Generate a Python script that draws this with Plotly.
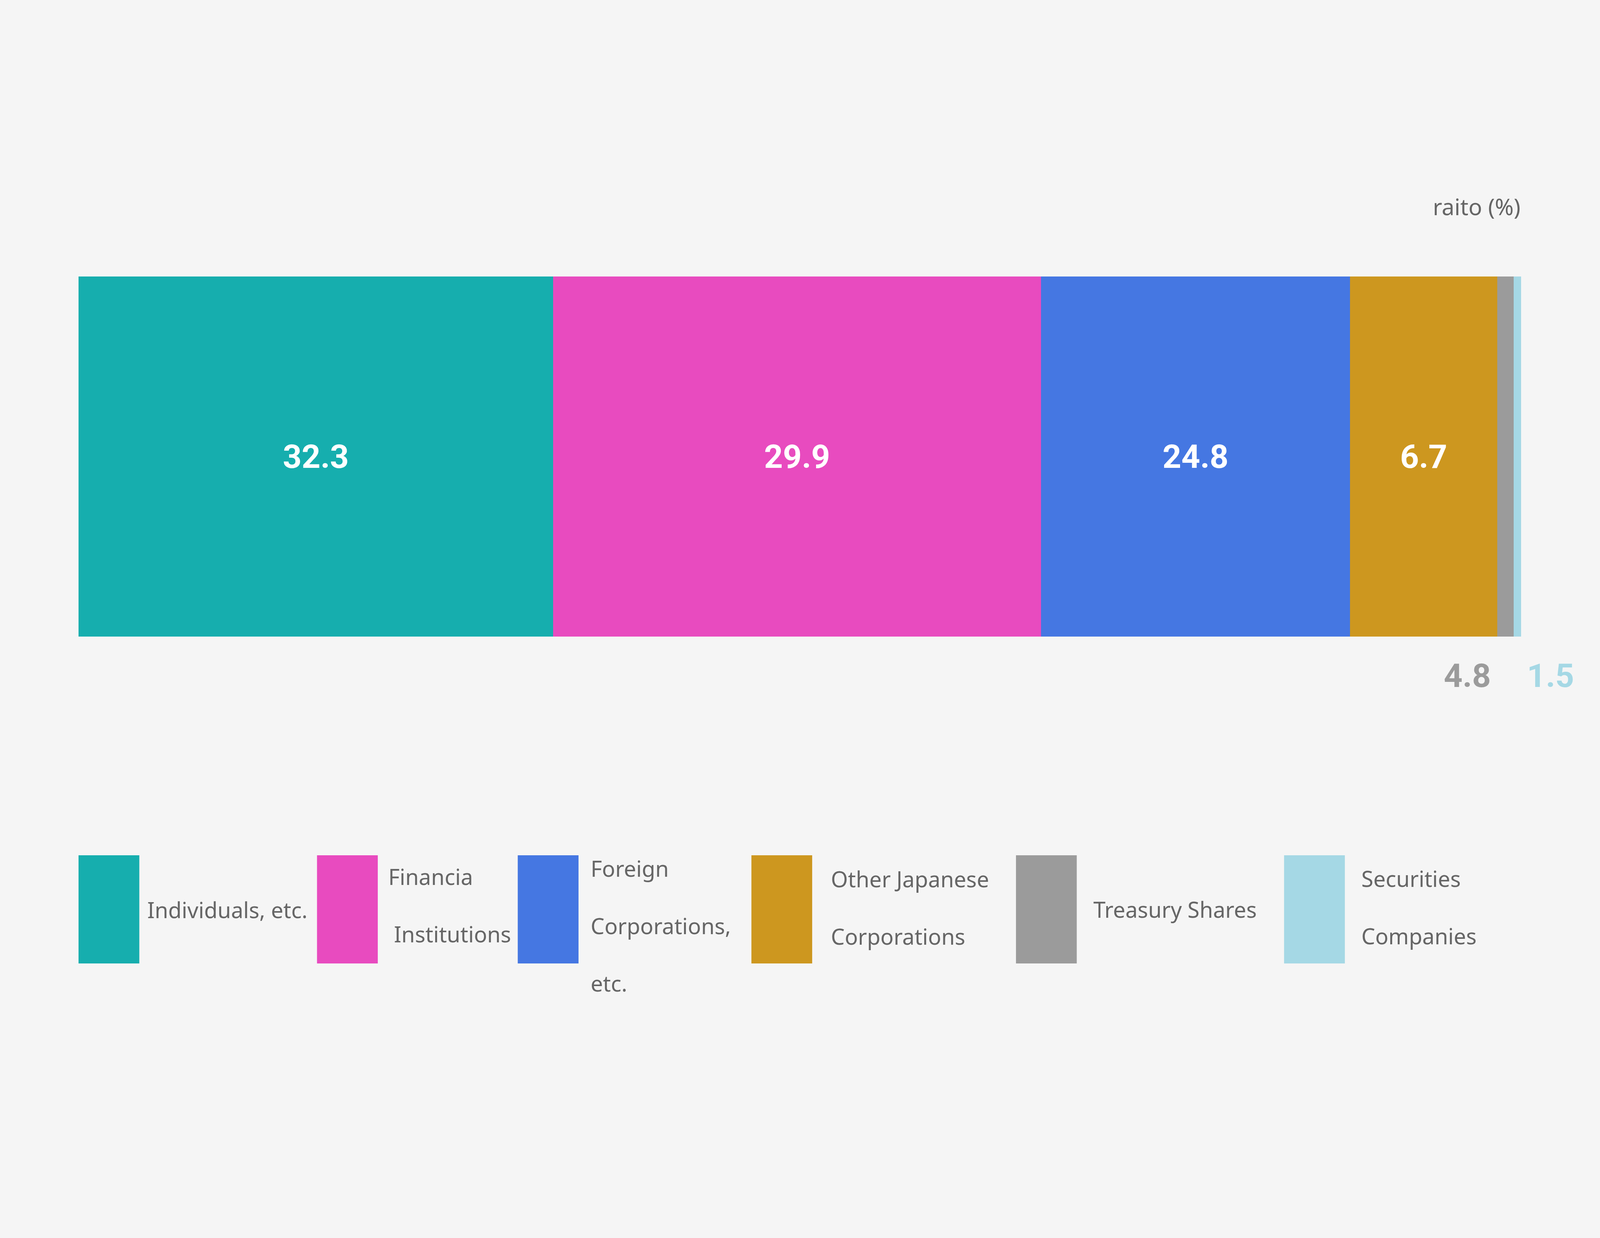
import plotly.graph_objects as go

# shareholder composition, one stacked bar
categories = ["Individuals, etc.", "Financia Institutions", "Foreign Corporations, etc.",
              "Other Japanese Corporations", "Treasury Shares", "Securities Companies"]
# legend text as it is broken into lines in the picture
legend_lines = [
    ["Individuals, etc."],
    ["Financia", "\u00a0Institutions"],
    ["Foreign", "Corporations,", "etc."],
    ["Other Japanese", "Corporations"],
    ["Treasury Shares"],
    ["Securities", "Companies"],
]
# printed labels
label_text = ["32.3", "29.9", "24.8", "6.7", "4.8", "1.5"]
# segment lengths as drawn (they do not follow the printed labels exactly)
bar_length = [32.9, 33.8, 21.4, 10.2, 1.14, 0.53]
colors = ["#16aeae", "#e84bbf", "#4577e2", "#cd971f", "#9b9b9b", "#a5d8e5"]
unit_label = "raito (%)"

# layout is measured on the 7293 x 3170 reference and placed as fractions,
# the page itself is filled by the figure (the window is narrower in practice)
W, H = 7293, 3170
S = 4096 / W          # horizontal px scale of the actual page
PL, PR, PT, PB = 358, 6934, 708, 1630   # bar area in reference pixels
BG = "#f5f5f5"
TEXT_GREY = "#666666"
NUM_SIZE = 84
LEGEND_SIZE = 56
UNIT_SIZE = 58


def fx(px):
    return px / W


def fy(py):
    return 1 - py / H


fig = go.Figure()
n_inside = 4
for i, (name, val) in enumerate(zip(categories, bar_length)):
    fig.add_trace(go.Bar(
        x=[val], y=[0], width=1, orientation="h", name=name,
        marker=dict(color=colors[i], line=dict(width=0)),
        text=[label_text[i] if i < n_inside else ""],
        textposition="inside", insidetextanchor="middle", textangle=0,
        constraintext="none",
        textfont=dict(family="Roboto", size=NUM_SIZE, color="white", weight="bold"),
        hoverinfo="skip",
    ))

annotations = []
# labels for the thin segments, below the bar
start_grey = sum(bar_length[:4])
total = sum(bar_length)
annotations.append(dict(x=start_grey, y=fy(1730), xref="x", yref="paper",
                        text=label_text[4], showarrow=False, xanchor="right", yanchor="middle",
                        xshift=-24 * S,
                        font=dict(family="Roboto", size=NUM_SIZE, color=colors[4], weight="bold")))
annotations.append(dict(x=total, y=fy(1730), xref="x", yref="paper",
                        text=label_text[5], showarrow=False, xanchor="left", yanchor="middle",
                        xshift=23 * S,
                        font=dict(family="Roboto", size=NUM_SIZE, color=colors[5], weight="bold")))
# unit
annotations.append(dict(x=fx(PR), y=fy(529), xref="paper", yref="paper", text=unit_label,
                        showarrow=False, xanchor="right", yanchor="middle",
                        font=dict(family="Noto Sans", size=UNIT_SIZE, color=TEXT_GREY)))

# hand made legend: square swatches with text to the right
swatch_left = [358, 1445, 2360, 3425, 4631, 5853]
text_left = [668, 1766, 2688, 3784, 4980, 6202]
first_line_y = [2329, 2244, 2223, 2250, 2328, 2249]
SW_TOP, SW_SIZE, LINE_STEP = 2190, 277, 147

shapes = []
for i in range(len(categories)):
    shapes.append(dict(type="rect", xref="paper", yref="paper",
                       x0=fx(swatch_left[i]), x1=fx(swatch_left[i] + SW_SIZE),
                       y0=fy(SW_TOP + SW_SIZE), y1=fy(SW_TOP),
                       fillcolor=colors[i], line=dict(width=0)))
    for k, line in enumerate(legend_lines[i]):
        annotations.append(dict(x=fx(text_left[i]), y=fy(first_line_y[i] + k * LINE_STEP),
                                xref="paper", yref="paper", text=line, showarrow=False,
                                xanchor="left", yanchor="middle",
                                font=dict(family="Noto Sans", size=LEGEND_SIZE, color=TEXT_GREY)))

fig.update_layout(
    autosize=True,
    margin=dict(l=0, r=0, t=0, b=0, pad=0),
    barmode="stack", bargap=0,
    paper_bgcolor=BG, plot_bgcolor=BG,
    showlegend=False,
    xaxis=dict(range=[0, total], domain=[fx(PL), fx(PR)], visible=False, fixedrange=True),
    yaxis=dict(range=[-0.5, 0.5], domain=[fy(PB), fy(PT)], visible=False, fixedrange=True),
    annotations=annotations,
    shapes=shapes,
)

fig.write_html(
    "out.html", default_width="100vw", default_height="100vh",
    config={"displayModeBar": False},
    post_script="document.body.style.margin='0';document.body.style.overflow='hidden';"
                "document.body.style.background='" + BG + "';",
)
